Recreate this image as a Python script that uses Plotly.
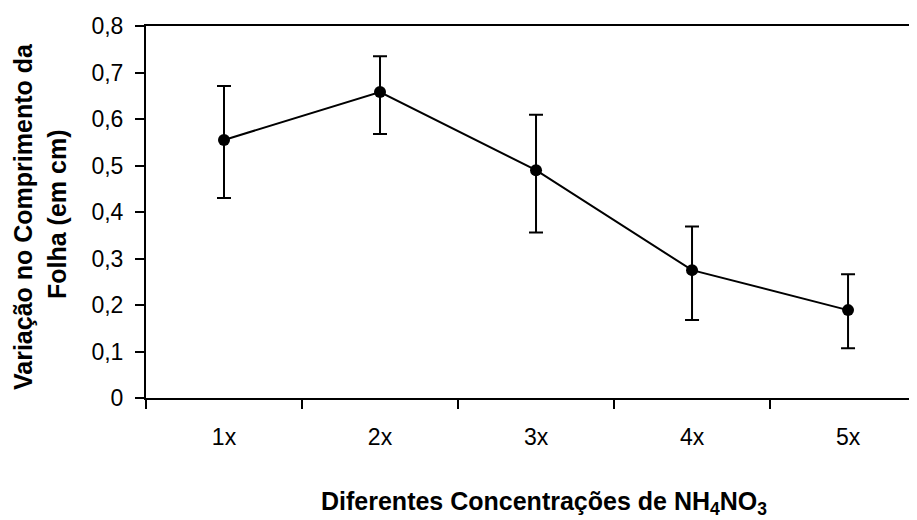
import plotly.graph_objects as go

categories = ["1x", "2x", "3x", "4x", "5x"]
values = [0.555, 0.658, 0.490, 0.275, 0.189]
err_plus = [0.116, 0.077, 0.119, 0.094, 0.077]
err_minus = [0.125, 0.090, 0.134, 0.107, 0.082]

y_title_1 = "Variação no Comprimento da"
y_title_2 = "Folha (em cm)"
x_title = "Diferentes Concentrações de NH<sub>4</sub>NO<sub>3</sub>"

FONT = "Liberation Sans, Arial, sans-serif"

# page is rendered with an 8px body margin; plot area in page pixels: x 146..917, y 26..398
OFF = 8
PL, PT, PR, PB = 146, 26, 917, 398
PW, PH = PR - PL, PB - PT

fig = go.Figure()
fig.add_trace(go.Scatter(
    x=categories, y=values, mode="lines+markers",
    line=dict(color="black", width=2),
    marker=dict(color="black", size=12),
    error_y=dict(type="data", symmetric=False, array=err_plus, arrayminus=err_minus,
                 color="black", thickness=2, width=7),
    showlegend=False,
))

fig.update_layout(
    width=917 - OFF, height=520 - OFF,
    margin=dict(l=PL - OFF, r=0, t=PT - OFF, b=520 - PB, pad=0),
    paper_bgcolor="white", plot_bgcolor="white",
    separators=",.",
    font=dict(family=FONT, color="black"),
    xaxis=dict(
        type="category", range=[-0.5, 4.442],
        showline=True, linecolor="black", linewidth=2, mirror=True,
        ticks="outside", tickson="boundaries", ticklen=9, tickwidth=2, tickcolor="black",
        tickfont=dict(size=23, family=FONT), ticklabelstandoff=17,
        showgrid=False, zeroline=False,
    ),
    yaxis=dict(
        range=[0, 0.8], dtick=0.1, tick0=0,
        showline=True, linecolor="black", linewidth=2, mirror=False,
        ticks="outside", ticklen=9, tickwidth=2, tickcolor="black",
        tickfont=dict(size=23, family=FONT), ticklabelstandoff=7,
        showgrid=False, zeroline=False,
    ),
)

fig.add_annotation(text="<b>%s</b>" % y_title_1, xref="paper", yref="paper",
                   x=(23 - PL) / PW, y=(PB - 217) / PH, textangle=-90, showarrow=False,
                   font=dict(size=25, family=FONT), xanchor="center", yanchor="middle")
fig.add_annotation(text="<b>%s</b>" % y_title_2, xref="paper", yref="paper",
                   x=(57 - PL) / PW, y=(PB - 215) / PH, textangle=-90, showarrow=False,
                   font=dict(size=25, family=FONT), xanchor="center", yanchor="middle")
fig.add_annotation(text="<b>%s</b>" % x_title, xref="paper", yref="paper",
                   x=(544 - PL) / PW, y=-(503 - PB) / PH, showarrow=False,
                   font=dict(size=25, family=FONT), xanchor="center", yanchor="middle")

fig.write_html("out.html")
